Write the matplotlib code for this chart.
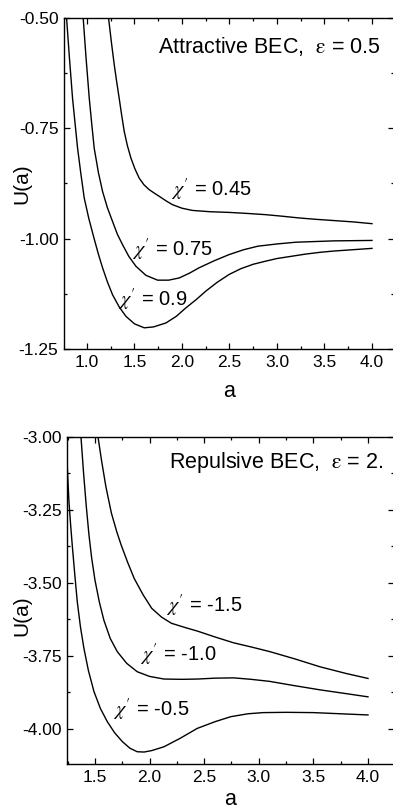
import matplotlib
matplotlib.use("Agg")
import matplotlib.pyplot as plt
from matplotlib.ticker import MultipleLocator, FormatStrFormatter

plt.rcParams['font.family'] = ['Liberation Sans', 'DejaVu Sans']
plt.rcParams['mathtext.fontset'] = 'stix'
plt.rcParams['axes.unicode_minus'] = True

# ---------------- Data: attractive BEC, eps = 0.5 ----------------
top_labels = ["0.45", "0.75", "0.9"]
a_att_045 = [1.227, 1.257, 1.287, 1.313, 1.339, 1.365, 1.392, 1.425, 1.462, 1.505, 1.55, 1.60, 1.655, 1.71,
             1.76, 1.83, 1.90, 2.0, 2.11, 2.3, 2.497, 2.7, 2.88, 3.05, 3.23, 3.4, 3.6, 3.8, 4.0]
U_att_045 = [-0.50, -0.555, -0.606, -0.645, -0.682, -0.72, -0.757, -0.789, -0.817, -0.842, -0.863, -0.878,
             -0.889, -0.897, -0.904, -0.914, -0.923, -0.931, -0.936, -0.939, -0.9405, -0.943, -0.9456, -0.949,
             -0.953, -0.956, -0.959, -0.962, -0.966]
a_att_075 = [0.96, 0.99, 1.024, 1.05, 1.076, 1.12, 1.164, 1.215, 1.269, 1.32, 1.374, 1.44, 1.515, 1.62, 1.743,
             1.86, 1.971, 2.08, 2.18, 2.34, 2.497, 2.65, 2.8, 3.0, 3.2, 3.6, 4.0]
U_att_075 = [-0.50, -0.59, -0.682, -0.74, -0.795, -0.85, -0.893, -0.93, -0.961, -0.99, -1.0135, -1.04, -1.0625,
             -1.083, -1.094, -1.094, -1.089, -1.078, -1.066, -1.05, -1.036, -1.025, -1.017, -1.012, -1.008,
             -1.005, -1.004]
a_att_09 = [0.785, 0.815, 0.848, 0.875, 0.901, 0.935, 0.971, 1.02, 1.076, 1.12, 1.164, 1.215, 1.269, 1.34, 1.41,
            1.5, 1.603, 1.7, 1.831, 1.94, 2.04, 2.15, 2.25, 2.37, 2.497, 2.62, 2.75, 2.88, 3.0, 3.15, 3.3, 3.45,
            3.6, 3.8, 4.0]
U_att_09 = [-0.50, -0.59, -0.682, -0.74, -0.795, -0.852, -0.908, -0.955, -1.0006, -1.035, -1.066, -1.098, -1.127,
            -1.155, -1.176, -1.193, -1.202, -1.200, -1.191, -1.176, -1.157, -1.138, -1.119, -1.099, -1.081,
            -1.068, -1.058, -1.051, -1.045, -1.040, -1.035, -1.031, -1.028, -1.025, -1.022]

# ---------------- Data: repulsive BEC, eps = 2 ----------------
bot_labels = ["-1.5", "-1.0", "-0.5"]
a_rep_15 = [1.528, 1.56, 1.60, 1.65, 1.70, 1.74, 1.80, 1.86, 1.94, 2.02, 2.11, 2.20, 2.32, 2.44, 2.6,
            2.77, 2.94, 3.10, 3.33, 3.56, 3.8, 4.0]
U_rep_15 = [-3.0, -3.08, -3.17, -3.26, -3.325, -3.37, -3.43, -3.485, -3.54, -3.587, -3.617, -3.638,
            -3.652, -3.665, -3.685, -3.705, -3.72, -3.735, -3.76, -3.787, -3.81, -3.827]
a_rep_10 = [1.372, 1.395, 1.42, 1.445, 1.47, 1.50, 1.54, 1.582, 1.64, 1.704, 1.79, 1.887, 2.0, 2.132,
            2.3, 2.437, 2.6, 2.77, 2.93, 3.10, 3.3, 3.56, 3.8, 4.0]
U_rep_10 = [-3.0, -3.12, -3.235, -3.335, -3.415, -3.49, -3.565, -3.628, -3.69, -3.735, -3.775, -3.804,
            -3.82, -3.829, -3.830, -3.829, -3.826, -3.825, -3.83, -3.837, -3.85, -3.866, -3.879, -3.890]
a_rep_05 = [1.241, 1.25, 1.262, 1.277, 1.292, 1.315, 1.338, 1.367, 1.399, 1.44, 1.491, 1.55, 1.613, 1.68, 1.75,
            1.82, 1.887, 1.95, 2.02, 2.132, 2.28, 2.437, 2.6, 2.743, 2.9, 3.04, 3.25, 3.5, 3.75, 4.0]
U_rep_05 = [-3.050, -3.13, -3.222, -3.30, -3.370, -3.47, -3.564, -3.65, -3.724, -3.80, -3.872, -3.93, -3.975,
            -4.013, -4.043, -4.066, -4.078, -4.079, -4.074, -4.061, -4.032, -3.998, -3.975, -3.958, -3.948,
            -3.944, -3.943, -3.944, -3.948, -3.952]

W, H = 393, 811
fig = plt.figure(figsize=(W / 100, H / 100), dpi=100)

def make_axes(l, t, r, b):
    return fig.add_axes([l / W, 1 - b / H, (r - l) / W, (b - t) / H])

ax1 = make_axes(64, 18, 394, 349)
ax2 = make_axes(67, 437, 394, 764)

lw = 1.0
for a, u in [(a_att_045, U_att_045), (a_att_075, U_att_075), (a_att_09, U_att_09)]:
    ax1.plot(a, u, color='black', lw=lw)
for a, u in [(a_rep_15, U_rep_15), (a_rep_10, U_rep_10), (a_rep_05, U_rep_05)]:
    ax2.plot(a, u, color='black', lw=lw)

ax1.set_xlim(0.758, 4.232)
ax1.set_ylim(-1.25, -0.50)
ax2.set_xlim(1.244, 4.238)
ax2.set_ylim(-4.12, -3.0)

for ax in (ax1, ax2):
    ax.xaxis.set_major_locator(MultipleLocator(0.5))
    ax.xaxis.set_minor_locator(MultipleLocator(0.25))
    ax.yaxis.set_major_locator(MultipleLocator(0.25))
    ax.yaxis.set_minor_locator(MultipleLocator(0.125))
    ax.xaxis.set_major_formatter(FormatStrFormatter('%.1f'))
    ax.yaxis.set_major_formatter(FormatStrFormatter('%.2f'))
    ax.tick_params(which='both', direction='in', top=True, right=True, labelsize=12.5, width=0.9)
    ax.tick_params(which='major', length=4, pad=4)
    ax.tick_params(which='minor', length=2.5)
    for s in ax.spines.values():
        s.set_linewidth(1.0)

lab_fs = 15
ax1.set_xlabel('a', fontsize=15.5, va='baseline')
ax1.xaxis.set_label_coords(0.5, -(397 - 349) / 331)
ax1.set_ylabel('U(a)', fontsize=lab_fs, va='center')
ax1.yaxis.set_label_coords((22 - 64) / 330, 0.5)
ax2.set_xlabel('a', fontsize=15.5, va='baseline')
ax2.xaxis.set_label_coords(0.5, -(805 - 764) / 327)
ax2.set_ylabel('U(a)', fontsize=lab_fs, va='center')
ax2.yaxis.set_label_coords((22 - 67) / 327, (764 - 616) / 327)

txt_fs = 14.5
ax1.text((381 - 64) / 330, (349 - 47) / 331, r'Attractive BEC,  $\mathrm{\varepsilon}$ = 0.5',
         transform=ax1.transAxes, ha='right', va='center', fontsize=15.5)
ax2.text((383 - 67) / 327, (764 - 463) / 327, r'Repulsive BEC,  $\mathrm{\varepsilon}$ = 2.',
         transform=ax2.transAxes, ha='right', va='center', fontsize=15.5)

chi = r'$\chi^{\prime}$ = '
top_pos = [(1.88, -0.89), (1.47, -1.025), (1.33, -1.138)]
for lab, (x, y) in zip(top_labels, top_pos):
    ax1.text(x, y, chi + lab, ha='left', va='center', fontsize=txt_fs)
bot_pos = [(2.15, -3.579), (1.91, -3.747), (1.665, -3.935)]
for lab, (x, y) in zip(bot_labels, bot_pos):
    ax2.text(x, y, chi + lab, ha='left', va='center', fontsize=txt_fs)

fig.savefig('out.png', dpi=100)
